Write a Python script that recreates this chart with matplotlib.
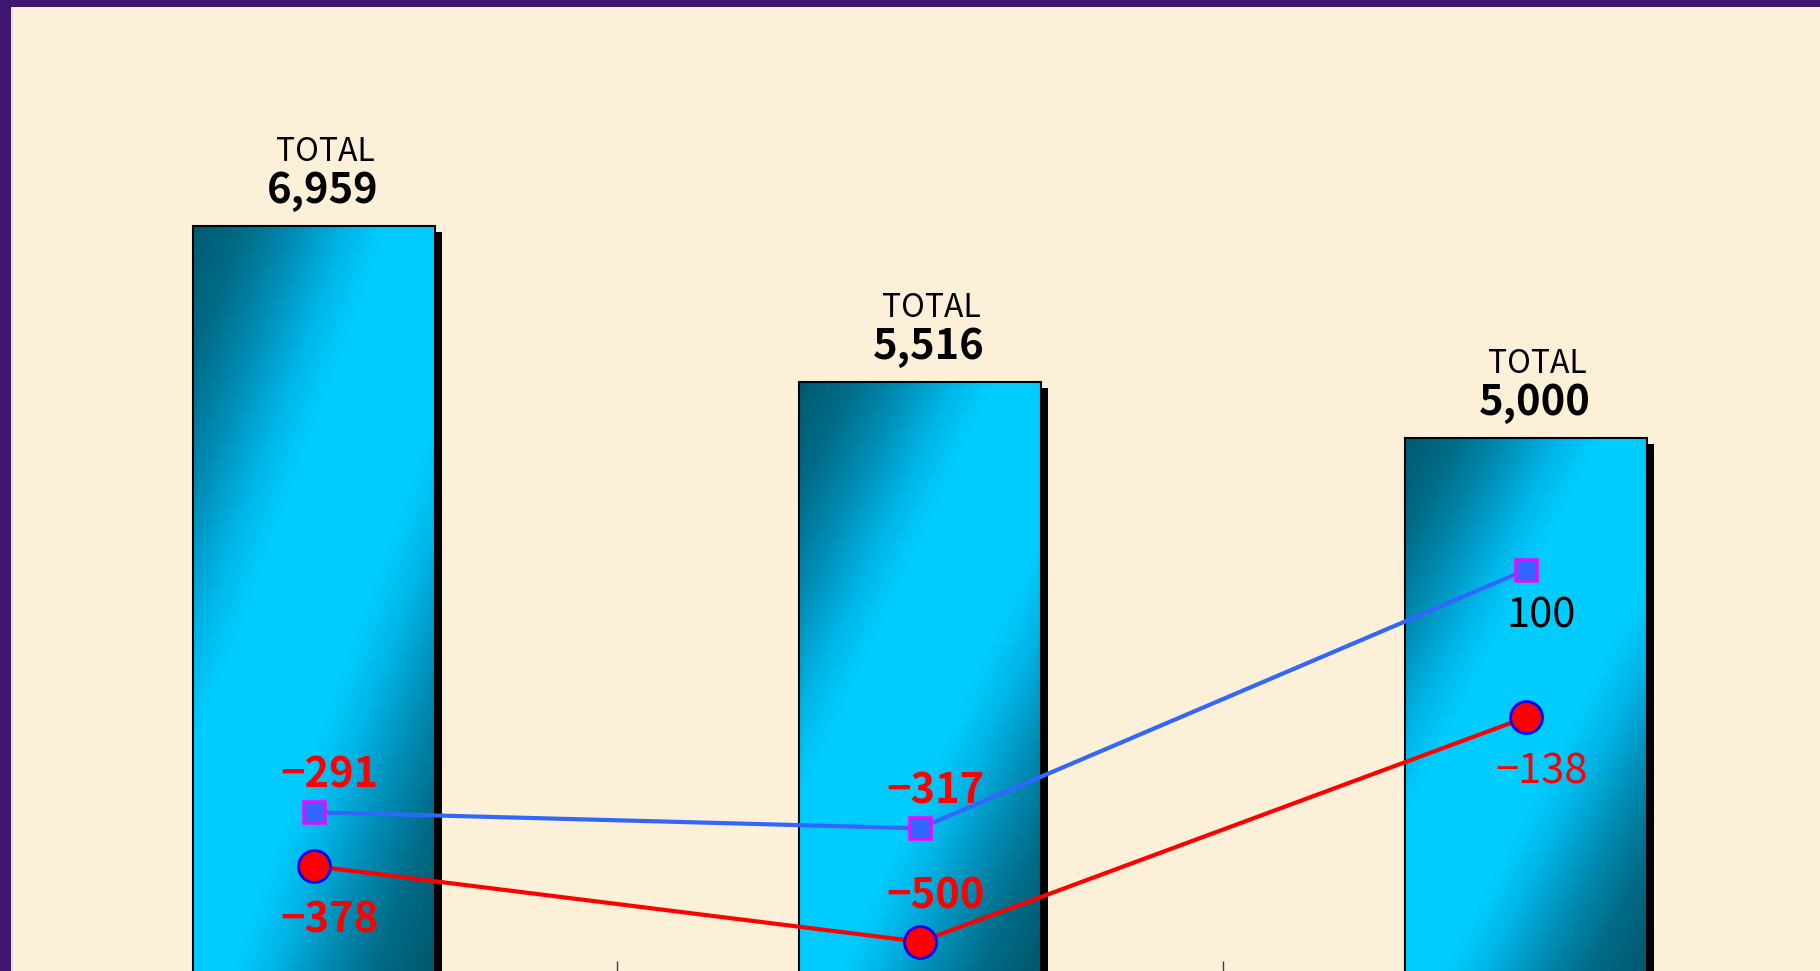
import numpy as np
import matplotlib
matplotlib.use("Agg")
import matplotlib.pyplot as plt
import matplotlib.patches as mpatches
import matplotlib.transforms as mtransforms
from matplotlib.colors import LinearSegmentedColormap

plt.rcParams['font.family'] = ['Noto Sans CJK JP', 'DejaVu Sans']

# Data
totals = [6959, 5516, 5000]
series_blue = [-291, -317, 100]
series_red = [-378, -500, -138]
# which side of the marker each data label sits on (1 = above, -1 = below)
blue_label_side = [1, 1, -1]
red_label_side = [-1, 1, -1]
# the labels on the last bar are in a lighter weight
blue_label_weight = ["bold", "bold", "normal"]
red_label_weight = ["bold", "bold", "normal"]

W, H = 1820, 971
fig = plt.figure(figsize=(W / 100, H / 100), dpi=100)
fig.patch.set_facecolor("#FCF0D8")

# plot area runs a little past the right and bottom edges (cropped original)
left, right, top, bottom = 11, 1829, 5, 979
ax = fig.add_axes([left / W, (H - bottom) / H, (right - left) / W, (bottom - top) / H])
ax.set_facecolor("none")

x = np.arange(len(totals))
bar_w = 0.4

# diagonal dark -> bright -> dark fill, like the old Office gradient
cmap = LinearSegmentedColormap.from_list(
    "bar", [(0, "#005A70"), (0.1, "#006C88"), (0.2, "#008CB4"), (0.3, "#00B4E6"),
            (0.38, "#00CCFF"), (0.62, "#00CCFF"), (0.7, "#00B4E6"),
            (0.8, "#008CB4"), (0.9, "#006C88"), (1, "#005A70")])
yy, xx = np.mgrid[0:1:300j, 0:1:120j]
grad = (xx + 1.15 * yy) / 2.0

shadow_tf = ax.transData + mtransforms.ScaledTranslation(7 / 100, -6 / 100, fig.dpi_scale_trans)
for xi, v in zip(x, totals):
    x0 = xi - bar_w / 2
    ax.add_patch(mpatches.Rectangle((x0, 0), bar_w, v, facecolor="black",
                                    edgecolor="none", transform=shadow_tf, zorder=1))
    ax.imshow(grad, cmap=cmap, vmin=0, vmax=1.05, extent=(x0, x0 + bar_w, 0, v),
              origin="upper", aspect="auto", interpolation="bilinear", zorder=2)
    ax.add_patch(mpatches.Rectangle((x0, 0), bar_w, v, facecolor="none",
                                    edgecolor="black", lw=1.5, zorder=3))
    # total labels
    ax.annotate(f"{v:,}", (xi, v), xytext=(6, 16.5), textcoords="offset points",
                ha="center", va="baseline", fontsize=30, fontweight="bold")
    ax.annotate("TOTAL", (xi, v), xytext=(8, 47), textcoords="offset points",
                ha="center", va="baseline", fontsize=23)

ax.set_xlim(-0.5, 2.5)
ax.set_ylim(0, 9000)
ax.set_xticks([0.5, 1.5])
ax.set_yticks([])
ax.tick_params(axis="x", direction="in", length=13, width=1, color="#404040",
               labelbottom=False)
for s in ax.spines.values():
    s.set_visible(False)

# secondary axis for the two lines
ax2 = ax.twinx()
ax2.set_ylim(-560, 1011)
ax2.set_yticks([])
for s in ax2.spines.values():
    s.set_visible(False)

ax2.plot(x, series_blue, color="#3366FF", lw=3, marker="s", ms=16,
         mfc="#3366FF", mec="#FF00FF", mew=1.8, zorder=5)
ax2.plot(x, series_red, color="#FF0000", lw=3, marker="o", ms=23,
         mfc="#FF0000", mec="#0000FF", mew=2, zorder=5)


def label(vals, sides, weights, gap_px):
    for xi, v, side, wt in zip(x, vals, sides, weights):
        dy = (side * gap_px - 16.5) * 0.72
        txt = f"{v:,}".replace("-", "\u2212")
        ax2.annotate(txt, (xi, v), xytext=(11, dy), textcoords="offset points",
                     ha="center", va="baseline", fontsize=30, fontweight=wt,
                     color="#FF0000" if v < 0 else "black")


label(series_blue, blue_label_side, blue_label_weight, 41)
label(series_red, red_label_side, red_label_weight, 50)

# purple frame on the top and left edges
fig.add_artist(mpatches.Rectangle((0, 1 - 7 / H), 1, 7 / H, transform=fig.transFigure,
                                  facecolor="#3E1670", edgecolor="none", zorder=10))
fig.add_artist(mpatches.Rectangle((0, 0), 11 / W, 1, transform=fig.transFigure,
                                  facecolor="#3E1670", edgecolor="none", zorder=10))
fig.add_artist(mpatches.Rectangle((11 / W, 0), 1.5 / W, 1 - 7 / H, transform=fig.transFigure,
                                  facecolor="#E6E0EA", edgecolor="none", zorder=10))

plt.savefig("out.png", dpi=100, facecolor=fig.get_facecolor())
